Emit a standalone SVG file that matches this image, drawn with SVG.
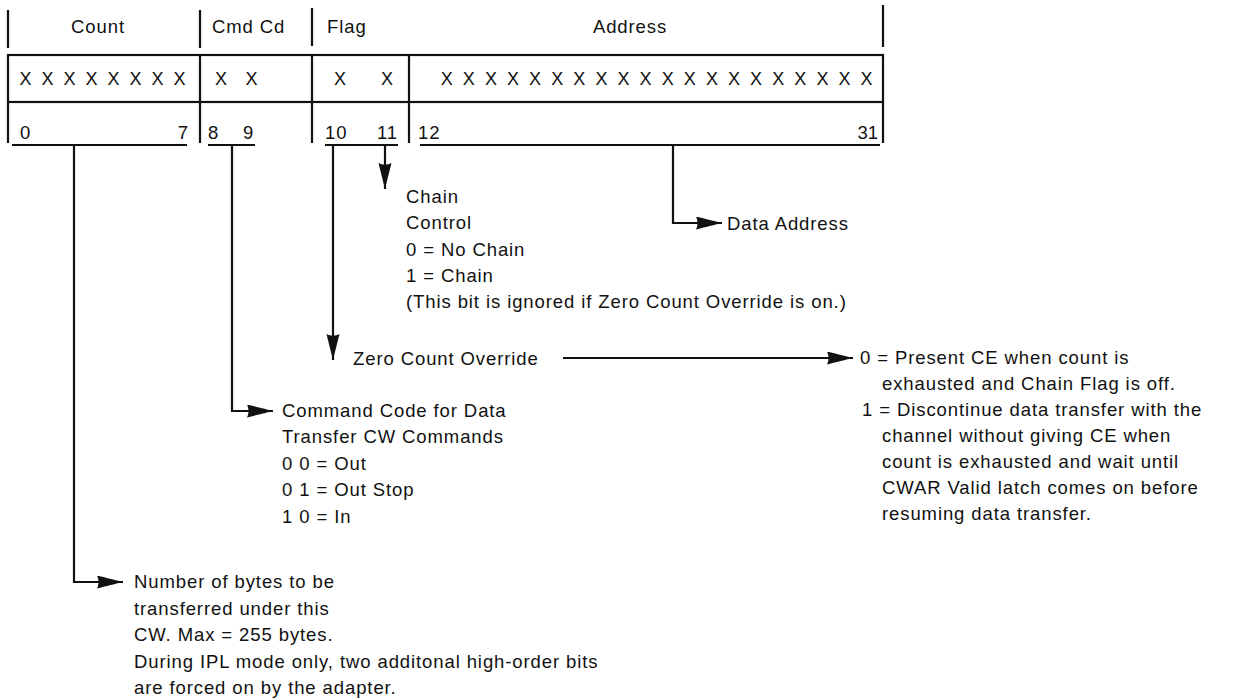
<svg xmlns="http://www.w3.org/2000/svg" width="1233" height="700" viewBox="0 0 1233 700">
<style>
text{font-family:"Liberation Sans",Arial,sans-serif;font-size:18.5px;fill:#111;letter-spacing:0.9px}
.x{font-size:18px;text-anchor:middle;letter-spacing:0}
.ln{stroke:#111;stroke-width:2.2;fill:none}
.c{stroke:#111;stroke-width:2.2;fill:none}
</style>
<defs>
<marker id="ah" markerUnits="userSpaceOnUse" markerWidth="28" markerHeight="14" refX="26" refY="6.5" orient="auto">
<path d="M0,0 C8,2 20,5 26,6.5 C20,8 8,11 0,13 C2,9 2,4 0,0 Z" fill="#111"/>
</marker>
</defs>
<rect width="1233" height="700" fill="#fff"/>
<g id="word">
<line class="ln" x1="8" y1="10" x2="8" y2="48"/>
<line class="ln" x1="200" y1="10" x2="200" y2="48"/>
<line class="ln" x1="312" y1="8" x2="312" y2="46"/>
<line class="ln" x1="883" y1="5" x2="883" y2="47"/>
<text x="98" y="33" text-anchor="middle">Count</text>
<text x="212" y="33">Cmd Cd</text>
<text x="327" y="33">Flag</text>
<text x="630" y="33" text-anchor="middle">Address</text>
<rect class="ln" x="8" y="55" width="875" height="47"/>
<line class="ln" x1="200" y1="55" x2="200" y2="143"/>
<line class="ln" x1="312" y1="55" x2="312" y2="143"/>
<line class="ln" x1="409" y1="55" x2="409" y2="143"/>
<line class="ln" x1="8" y1="102" x2="8" y2="143"/>
<line class="ln" x1="883" y1="102" x2="883" y2="143"/>
<g id="xs">
<text class="x" x="25.5" y="85">X</text><text class="x" x="47.5" y="85">X</text><text class="x" x="69.5" y="85">X</text><text class="x" x="91.5" y="85">X</text><text class="x" x="113.5" y="85">X</text><text class="x" x="135.5" y="85">X</text><text class="x" x="157.5" y="85">X</text><text class="x" x="179.5" y="85">X</text>
<text class="x" x="221" y="85">X</text><text class="x" x="251.5" y="85">X</text>
<text class="x" x="340" y="85">X</text><text class="x" x="387" y="85">X</text>
<text class="x" x="446.7" y="85">X</text><text class="x" x="468.8" y="85">X</text><text class="x" x="490.9" y="85">X</text><text class="x" x="513" y="85">X</text><text class="x" x="535.1" y="85">X</text><text class="x" x="557.2" y="85">X</text><text class="x" x="579.3" y="85">X</text><text class="x" x="601.4" y="85">X</text><text class="x" x="623.5" y="85">X</text><text class="x" x="645.6" y="85">X</text><text class="x" x="667.7" y="85">X</text><text class="x" x="689.8" y="85">X</text><text class="x" x="711.9" y="85">X</text><text class="x" x="734" y="85">X</text><text class="x" x="756.1" y="85">X</text><text class="x" x="778.2" y="85">X</text><text class="x" x="800.3" y="85">X</text><text class="x" x="822.4" y="85">X</text><text class="x" x="844.5" y="85">X</text><text class="x" x="866.6" y="85">X</text>
</g>
<text x="20" y="139">0</text>
<text x="188" y="139" text-anchor="end" style="letter-spacing:0">7</text>
<text x="208" y="139">8</text>
<text x="243" y="139">9</text>
<text x="325" y="139">10</text>
<text x="377" y="139">11</text>
<text x="418" y="139">12</text>
<text x="878" y="139" text-anchor="end" style="letter-spacing:0">31</text>
<line class="ln" x1="12" y1="145" x2="187" y2="145"/>
<line class="ln" x1="208" y1="145" x2="255" y2="145"/>
<line class="ln" x1="325" y1="145" x2="398" y2="145"/>
<line class="ln" x1="420" y1="145" x2="880" y2="145"/>
</g>
<g id="connectors">
<path class="c" d="M74,145 V582 H123" marker-end="url(#ah)"/>
<path class="c" d="M232,145 V411 H273" marker-end="url(#ah)"/>
<path class="c" d="M333,145 V360" marker-end="url(#ah)"/>
<path class="c" d="M385,145 V189" marker-end="url(#ah)"/>
<path class="c" d="M673,145 V223 H722" marker-end="url(#ah)"/>
<path class="c" d="M563,358 H853" marker-end="url(#ah)"/>
</g>
<g id="chain">
<text x="406" y="203">Chain</text>
<text x="406" y="229">Control</text>
<text x="406" y="256">0 = No Chain</text>
<text x="406" y="282">1 = Chain</text>
<text x="406" y="308">(This bit is ignored if Zero Count Override is on.)</text>
</g>
<g id="data-address">
<text x="727" y="230">Data Address</text>
</g>
<g id="zco">
<text x="353" y="365">Zero Count Override</text>
</g>
<g id="zco-values">
<text x="860" y="364">0 = Present CE when count is</text>
<text x="882" y="390">exhausted and Chain Flag is off.</text>
<text x="862" y="416">1 = Discontinue data transfer with the</text>
<text x="882" y="442">channel without giving CE when</text>
<text x="882" y="468">count is exhausted and wait until</text>
<text x="882" y="494">CWAR Valid latch comes on before</text>
<text x="882" y="520">resuming data transfer.</text>
</g>
<g id="command">
<text x="282" y="417">Command Code for Data</text>
<text x="282" y="443">Transfer CW Commands</text>
<text x="282" y="470">0 0 = Out</text>
<text x="282" y="496">0 1 = Out Stop</text>
<text x="282" y="523">1 0 = In</text>
</g>
<g id="count-desc">
<text x="134" y="588">Number of bytes to be</text>
<text x="134" y="615">transferred under this</text>
<text x="134" y="641">CW. Max = 255 bytes.</text>
<text x="134" y="668">During IPL mode only, two additonal high-order bits</text>
<text x="134" y="694">are forced on by the adapter.</text>
</g>
</svg>
